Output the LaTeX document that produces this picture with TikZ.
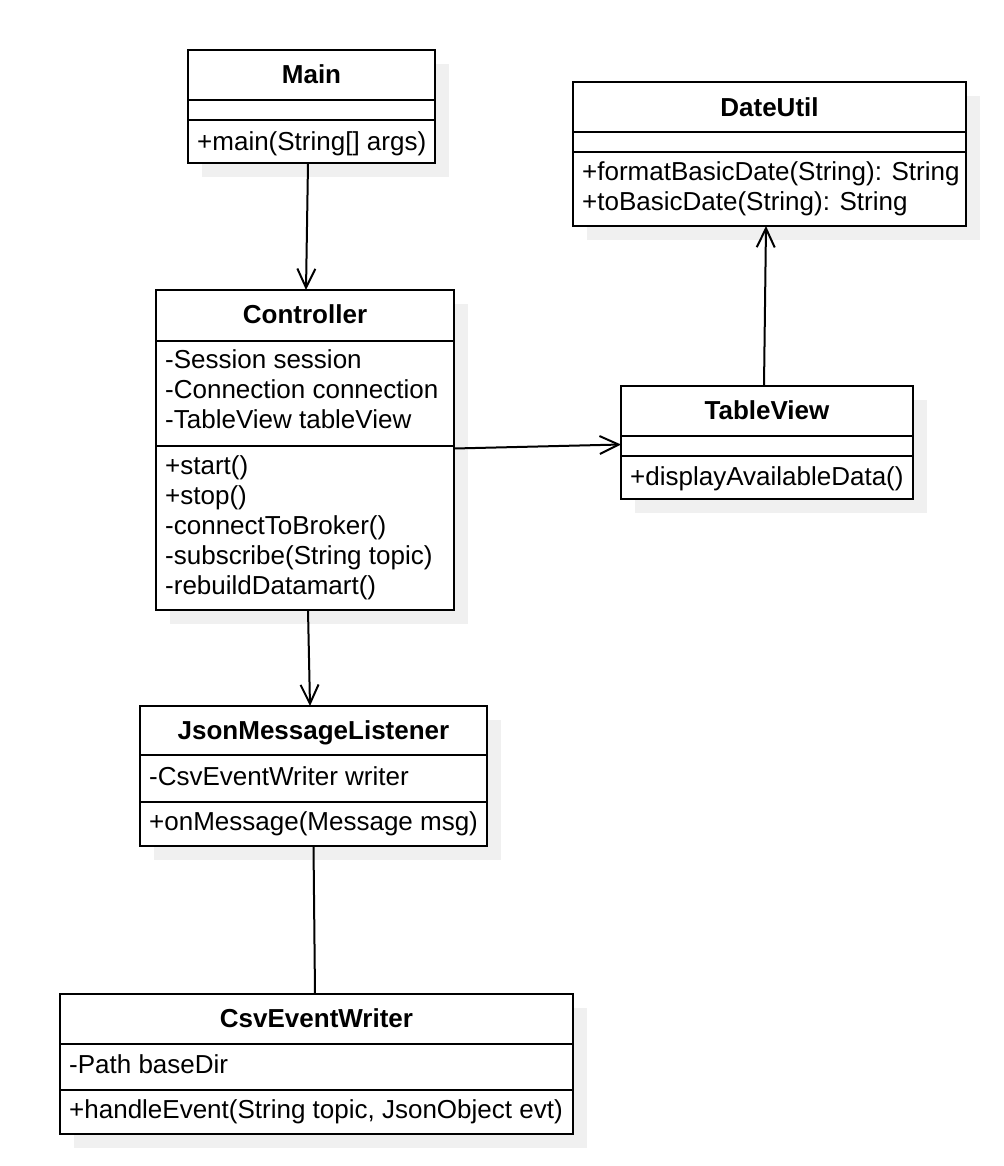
\documentclass[tikz,border=0pt]{standalone}
\usepackage{fontspec}
\setmainfont{Liberation Sans}
\usetikzlibrary{arrows.meta,shadows}

\definecolor{shade}{RGB}{240,240,240}
\definecolor{ink}{RGB}{0,0,0}

\tikzset{
  umlbox/.style={draw=ink, line width=2bp, fill=white, inner sep=0pt, outer sep=0pt,
    anchor=north west,
    general shadow={fill=shade, shadow xshift=14bp, shadow yshift=-14bp}},
  divider/.style={draw=ink, line width=2bp},
  classname/.style={font=\fontsize{26bp}{30bp}\selectfont\bfseries, inner sep=0pt, anchor=base, text=ink},
  member/.style={font=\fontsize{26bp}{30bp}\selectfont, inner sep=0pt, anchor=base west, text=ink},
  assoc/.style={draw=ink, line width=2bp, -{Straight Barb[length=19bp,width=18bp,line width=2bp]}},
  link/.style={draw=ink, line width=2bp},
}

\begin{document}
\begin{tikzpicture}[x=1bp,y=-1bp]
\useasboundingbox (0,0) rectangle (1004,1166);

% ---- class boxes ----
\node[umlbox, minimum width=247bp, minimum height=113bp] (main) at (188,50) {};
\node[umlbox, minimum width=393bp, minimum height=144bp] (du)   at (573,82) {};
\node[umlbox, minimum width=298bp, minimum height=320bp] (ctrl) at (156,290) {};
\node[umlbox, minimum width=292bp, minimum height=113bp] (tv)   at (621,386) {};
\node[umlbox, minimum width=347bp, minimum height=140bp] (jml)  at (140,706) {};
\node[umlbox, minimum width=513bp, minimum height=140bp] (csv)  at (60,994) {};

% ---- compartment separators ----
\draw[divider] (188,100) -- (435,100);
\draw[divider] (188,120) -- (435,120);
\draw[divider] (573,132) -- (966,132);
\draw[divider] (573,152) -- (966,152);
\draw[divider] (156,341) -- (454,341);
\draw[divider] (156,446) -- (454,446);
\draw[divider] (621,436) -- (913,436);
\draw[divider] (621,456) -- (913,456);
\draw[divider] (140,755) -- (487,755);
\draw[divider] (140,802) -- (487,802);
\draw[divider] (60,1044) -- (573,1044);
\draw[divider] (60,1090) -- (573,1090);

% ---- Main ----
\node[classname] (main-t) at (311.5,83) {Main};
\node[member] (main-m1) at (197,150) {+main(String[] args)};

% ---- DateUtil ----
\node[classname] (du-t) at (769.5,116) {DateUtil};
\node[member] (du-m1) at (582,180) {+formatBasicDate(String): String};
\node[member] (du-m2) at (582,210) {+toBasicDate(String): String};

% ---- Controller ----
\node[classname] (ctrl-t) at (305,323) {Controller};
\node[member] (ctrl-a1) at (165,368) {-Session session};
\node[member] (ctrl-a2) at (165,398) {-Connection connection};
\node[member] (ctrl-a3) at (165,428) {-TableView tableView};
\node[member] (ctrl-m1) at (165,474) {+start()};
\node[member] (ctrl-m2) at (165,504) {+stop()};
\node[member] (ctrl-m3) at (165,534) {-connectToBroker()};
\node[member] (ctrl-m4) at (165,564) {-subscribe(String topic)};
\node[member] (ctrl-m5) at (165,594) {-rebuildDatamart()};

% ---- TableView ----
\node[classname] (tv-t) at (767,419) {TableView};
\node[member] (tv-m1) at (630,485) {+displayAvailableData()};

% ---- JsonMessageListener ----
\node[classname] (jml-t) at (313.5,739) {JsonMessageListener};
\node[member] (jml-a1) at (149,785) {-CsvEventWriter writer};
\node[member] (jml-m1) at (149,830) {+onMessage(Message msg)};

% ---- CsvEventWriter ----
\node[classname] (csv-t) at (316.5,1027) {CsvEventWriter};
\node[member] (csv-a1) at (69,1073) {-Path baseDir};
\node[member] (csv-m1) at (69,1118) {+handleEvent(String topic, JsonObject evt)};

% ---- relations ----
\draw[assoc] ([xshift=-3.5bp]main.south) -- ([xshift=1bp]ctrl.north);
\draw[assoc] ([yshift=1.5bp]ctrl.east) -- ([yshift=-2bp]tv.west);
\draw[assoc] ([xshift=-3bp]tv.north) -- ([xshift=-3.5bp]du.south);
\draw[assoc] ([xshift=3bp]ctrl.south) -- ([xshift=-3.5bp]jml.north);
\draw[link] (jml.south) -- ([xshift=-1.5bp]csv.north);
\end{tikzpicture}
\end{document}
